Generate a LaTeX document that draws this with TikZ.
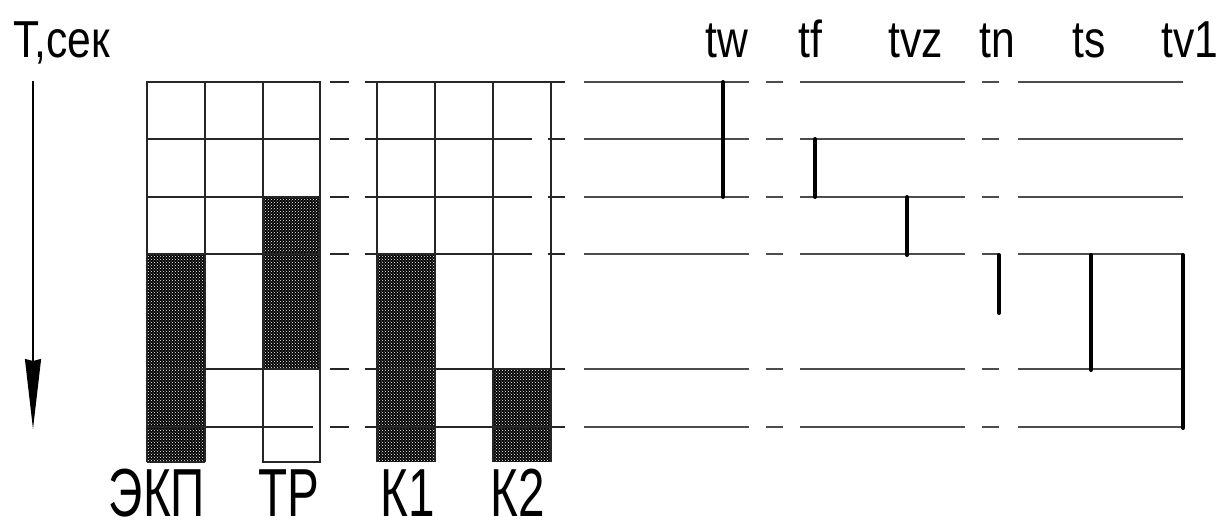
\documentclass[tikz,border=0pt]{standalone}
\usepackage{fontspec}
\setmainfont{Liberation Sans}
\usetikzlibrary{arrows.meta,patterns}
\begin{document}
\begin{tikzpicture}[x=1pt,y=-1pt,
  gridln/.style={line width=1.4pt, black!85},
  dashln/.style={line width=1.9pt, black!70},
  marker/.style={line width=4pt, black, line cap=round},
  hatch/.style={fill=black, postaction={pattern=crosshatch dots, pattern color=white}},
  toplbl/.style={anchor=base, inner sep=0pt, font=\fontsize{52}{52}\selectfont},
  botlbl/.style={anchor=base, inner sep=0pt, font=\fontsize{68}{68}\selectfont},
]
\useasboundingbox (0,0) rectangle (1221,531);
\fill[white] (0,0) rectangle (1221,531);

% hatched fills
\path[hatch] (147,254) rectangle (205,462);
\path[hatch] (263,197) rectangle (320,369);
\path[hatch] (377,254) rectangle (435,462);
\path[hatch] (493,369) rectangle (551,462);

% left group grid
\draw[gridln] (147,462) -- (147,82) -- (320,82) -- (320,462) -- (263,462) -- (263,82);
\draw[gridln] (205,82) -- (205,462);
\draw[gridln] (147,462) -- (205,462);
\foreach \y in {139,197,254,369} \draw[gridln] (147,\y) -- (320,\y);
\draw[gridln] (147,427) -- (313,427);

% K group grid
\draw[gridln] (365,82) -- (565,82);
\foreach \x in {377,435,493,551} \draw[gridln] (\x,82) -- (\x,462);
\foreach \y in {139,197,254} {
  \draw[gridln] (365,\y) -- (532,\y);
  \draw[gridln] (548,\y) -- (565,\y);
}
\foreach \y in {369,427} \draw[gridln] (365,\y) -- (565,\y);

% dash-dot continuation
\foreach \y in {82,139,197,254,369,427} {
  \draw[gridln] (330,\y) -- (349,\y);
  \draw[dashln] (584,\y) -- (749,\y);
  \draw[dashln] (766,\y) -- (783,\y);
  \draw[dashln] (800,\y) -- (965,\y);
  \draw[dashln] (982,\y) -- (999,\y);
  \draw[dashln] (1018,\y) -- (1183,\y);
}

% markers
\draw[marker] (723,82) -- (723,197);
\draw[marker] (815,139) -- (815,197);
\draw[marker] (907,197) -- (907,255);
\draw[marker] (999,255) -- (999,313);
\draw[marker] (1091,255) -- (1091,370);
\draw[marker] (1183,255) -- (1183,428);

% time arrow
\coordinate (atop) at (33,81);
\coordinate (abot) at (33,429);
\draw[line width=1.4pt, -{Stealth[length=70pt,width=16pt,inset=2pt]}] (atop) -- (abot);

% labels
\node[toplbl, anchor=base west] (lT) at (13,57.6) {\scalebox{0.82}[1]{Т,сек}};
\node[toplbl] (ltw) at (727,57.6) {\scalebox{0.82}[1]{tw}};
\node[toplbl] (ltf) at (810,57.6) {\scalebox{0.82}[1]{tf}};
\node[toplbl] (ltvz) at (916,57.6) {\scalebox{0.82}[1]{tvz}};
\node[toplbl] (ltn) at (997,57.6) {\scalebox{0.82}[1]{tn}};
\node[toplbl] (lts) at (1089,57.6) {\scalebox{0.82}[1]{ts}};
\node[toplbl] (ltv) at (1190,57.6) {\scalebox{0.82}[1]{tv1}};

\node[botlbl] (lEKP) at (157,516) {\scalebox{0.7}[1]{ЭКП}};
\node[botlbl] (lTR) at (289,516) {\scalebox{0.7}[1]{ТР}};
\node[botlbl] (lK1) at (408,516) {\scalebox{0.7}[1]{К1}};
\node[botlbl] (lK2) at (518,516) {\scalebox{0.7}[1]{К2}};
\end{tikzpicture}
\end{document}
